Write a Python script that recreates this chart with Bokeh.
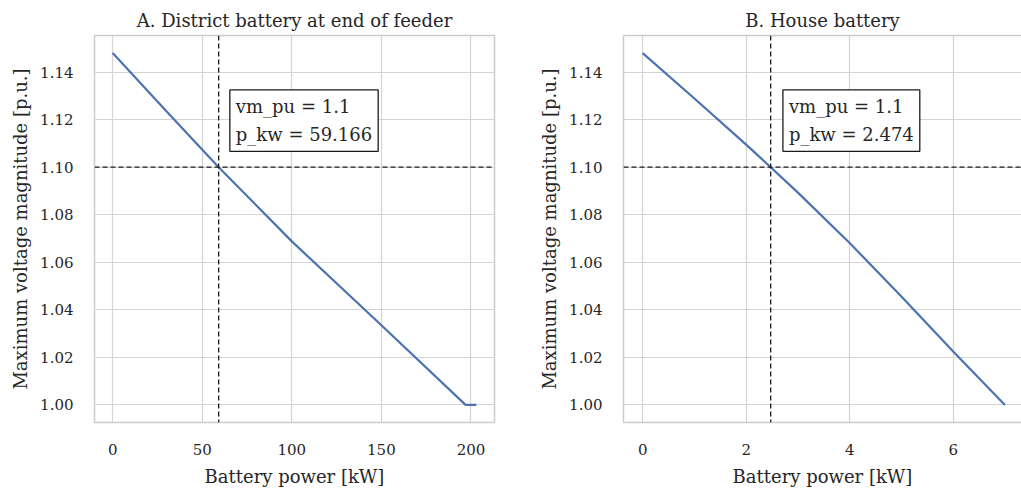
from bokeh.plotting import figure
from bokeh.layouts import row
from bokeh.models import Span, Label, FixedTicker, PrintfTickFormatter, LinearAxis, Range1d
from bokeh.embed import file_html
from bokeh.resources import INLINE

# ---- data ----
district_p_kw = [0, 30, 59.166, 100, 150, 197, 203]
district_vm_pu = [1.148, 1.1235, 1.1, 1.0688, 1.0335, 1.0, 1.0]
house_p_kw = [0, 1, 2, 2.474, 3, 4, 5, 6, 7]
house_vm_pu = [1.148, 1.1289, 1.1095, 1.1, 1.0893, 1.0681, 1.0456, 1.0225, 1.0]
vm_limit = 1.1
district_p_at_limit = 59.166
house_p_at_limit = 2.474
district_xticks = [0, 50, 100, 150, 200]
house_xticks = [0, 2, 4, 6]
yticks = [1.00, 1.02, 1.04, 1.06, 1.08, 1.10, 1.12, 1.14]
titles = ["A. District battery at end of feeder", "B. House battery"]
xlabel = "Battery power [kW]"
ylabel = "Maximum voltage magnitude [p.u.]"

FONT = "DejaVu Serif"
TXT = "#262626"
GRID = "#d4d4d4"
SPINE = "#cccccc"
BLUE = "#4c72b0"


def make_fig(title, xr, width, border_left, border_right, xticks, outline):
    p = figure(width=width, height=493, x_range=Range1d(*xr), y_range=Range1d(0.9926, 1.1554),
               output_backend="svg", toolbar_location=None, title=title,
               min_border_left=border_left, min_border_right=border_right,
               min_border_top=35, min_border_bottom=71)
    p.title.align = "center"
    p.title.text_font = FONT
    p.title.text_font_size = "18px"
    p.title.text_font_style = "normal"
    p.title.text_color = TXT
    p.title.offset = 0
    p.xgrid.grid_line_color = GRID
    p.ygrid.grid_line_color = GRID
    p.xgrid.grid_line_width = 1.2
    p.ygrid.grid_line_width = 1.2
    p.outline_line_color = SPINE if outline else None
    p.outline_line_width = 1.5
    p.xaxis.ticker = FixedTicker(ticks=xticks)
    p.yaxis.ticker = FixedTicker(ticks=yticks)
    p.yaxis.formatter = PrintfTickFormatter(format="%.2f")
    for ax in (p.xaxis[0], p.yaxis[0]):
        ax.major_tick_line_color = None
        ax.minor_tick_line_color = None
        ax.axis_line_color = None if outline else SPINE
        ax.axis_line_width = 1.5
        ax.major_label_text_font = FONT
        ax.major_label_text_font_size = "15px"
        ax.major_label_text_color = TXT
        ax.axis_label_text_font = FONT
        ax.axis_label_text_font_size = "18px"
        ax.axis_label_text_font_style = "normal"
        ax.axis_label_text_color = TXT
    p.xaxis.axis_label = xlabel
    p.yaxis.axis_label = ylabel
    p.xaxis.major_label_standoff = 15
    p.xaxis.axis_label_standoff = 8
    p.yaxis.major_label_standoff = 15
    p.yaxis.axis_label_standoff = 6
    if not outline:
        top = LinearAxis(major_tick_line_color=None, minor_tick_line_color=None,
                         major_label_text_font_size="0px", axis_line_color=SPINE,
                         axis_line_width=1.5, major_label_standoff=0)
        top.ticker = FixedTicker(ticks=[])
        p.add_layout(top, "above")
    return p


def decorate(p, xs, ys, p_limit, label_x):
    p.line(xs, ys, line_color=BLUE, line_width=2.2)
    p.add_layout(Span(location=vm_limit, dimension="width", line_color="#1a1a1a",
                      line_dash="5 3", line_width=1.3))
    p.add_layout(Span(location=p_limit, dimension="height", line_color="#1a1a1a",
                      line_dash="5 3", line_width=1.3))
    p.add_layout(Label(x=label_x, y=1.1325, text=f"vm_pu = {vm_limit}\np_kw = {p_limit}",
                       anchor="top_left", text_font=FONT, text_font_size="18px",
                       text_color=TXT, text_line_height=1.35,
                       background_fill_color="white", border_line_color="#1a1a1a",
                       border_line_width=1.3, padding=6))


p1 = make_fig(titles[0], (-10.15, 213.15), 510, 94, 16, district_xticks, True)
decorate(p1, district_p_kw, district_vm_pu, district_p_at_limit, 65.4)

p2 = make_fig(titles[1], (-0.37, 7.32), 511, 113, 0, house_xticks, False)
decorate(p2, house_p_kw, house_vm_pu, house_p_at_limit, 2.71)

layout = row(p1, p2, spacing=0)
open("out.html", "w").write(file_html(layout, INLINE))
